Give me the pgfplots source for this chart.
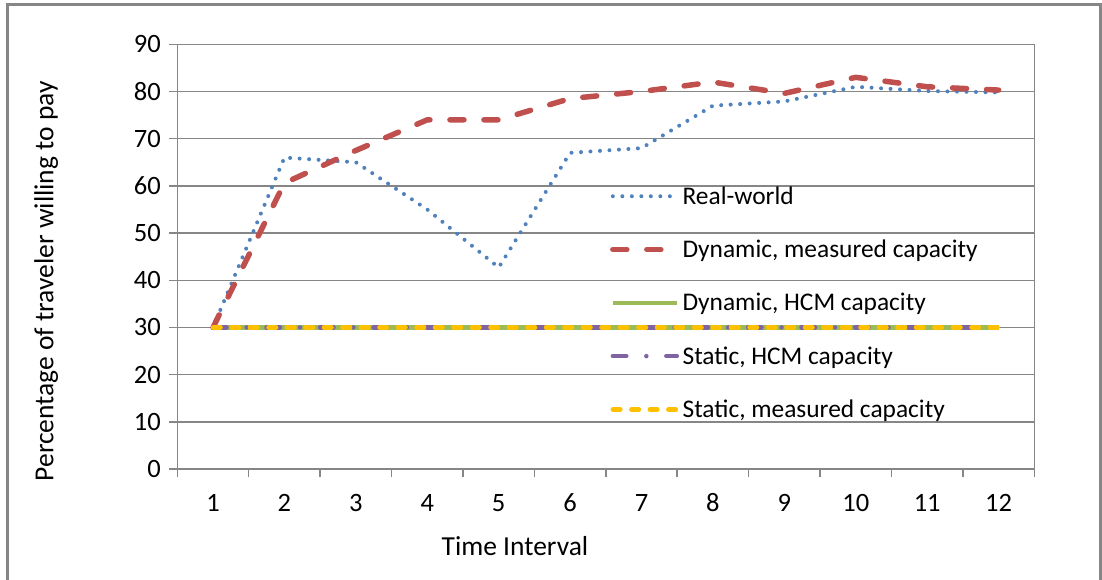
\documentclass[border=0pt]{standalone}
\usepackage{fontspec}
\setmainfont{Carlito}
\usepackage{pgfplots}
\usepackage{pgfplotstable}
\pgfplotsset{compat=1.18}
\definecolor{cblue}{HTML}{4F81BD}
\definecolor{cred}{HTML}{C0504D}
\definecolor{cgreen}{HTML}{9BBB59}
\definecolor{cpurple}{HTML}{8064A2}
\definecolor{cyellow}{HTML}{FFC000}
\definecolor{cgray}{HTML}{868686}
\pgfplotstableread{
x real dynmeas dynhcm stathcm statmeas
1 30 30 30 30 30
2 66 60.6 30 30 30
3 65 67.5 30 30 30
4 55 74 30 30 30
5 42.7 74 30 30 30
6 67 78.5 30 30 30
7 68 80 30 30 30
8 77 82 30 30 30
9 77.9 79.6 30 30 30
10 81 83 30 30 30
11 80.1 81 30 30 30
12 79.8 80.3 30 30 30
}\datatable
\begin{document}
\begin{tikzpicture}[font=\fontsize{26}{30}\selectfont]
\useasboundingbox (-177.3pt,-110pt) rectangle (924.7pt,469pt);
\draw[color=cgray, line width=3pt] (-169.3pt,-140pt) rectangle (922.7pt,464pt);
\begin{axis}[
  at={(0pt,0pt)}, anchor=south west,
  scale only axis, width=857pt, height=424.7pt,
  xmin=0.5, xmax=12.5, ymin=0, ymax=90,
  font=\fontsize{26.5}{30}\selectfont,
  /pgf/number format/assume math mode=true,
  axis line style={cgray, line width=1.5pt},
  ymajorgrids, grid style={cgray, line width=1.5pt},
  ytick={0,10,...,90},
  xtick={0.5,1.5,...,12.5}, xticklabels={},
  extra x ticks={1,2,...,12},
  extra x tick labels={1,2,3,4,5,6,7,8,9,10,11,12},
  extra x tick style={major tick length=0pt, tick style={draw=none}},
  xtick pos=bottom, ytick pos=left,
  tick align=outside, major tick length=8pt,
  tick style={cgray, line width=1.5pt},
  xticklabel style={anchor=base, yshift=-42pt},
  yticklabel style={anchor=east, xshift=-5pt},
  xlabel={Time Interval},
  xlabel style={font=\fontsize{27.5}{32}\selectfont, at={(axis description cs:0.394,0)}, anchor=base, yshift=-86pt},
  ylabel={Percentage of traveler willing to pay},
  ylabel style={font=\fontsize{27.5}{32}\selectfont, at={(axis description cs:-0.153,0.442)}, anchor=center, rotate=0},
  legend style={draw=none, fill=none, at={(0.505,0.705)}, anchor=north west,
    inner sep=0pt, outer sep=0pt, row sep=0pt, column sep=0pt,
    font=\fontsize{25.4}{30}\selectfont,
    nodes={inner sep=0pt, minimum height=53.3pt, anchor=west}},
  legend cell align=left,
  legend image code/.code={\draw[#1] (0pt,0pt) -- (64pt,0pt);},
]
\addplot[cblue, line width=4pt, line cap=round, dash pattern=on 0pt off 9.5pt] table[x=x,y=real]{\datatable};
\addlegendentry{\hspace{3pt}Real-world}
\addplot[cred, line width=5.5pt, line cap=round, dash pattern=on 14pt off 20pt] table[x=x,y=dynmeas]{\datatable};
\addlegendentry{\hspace{3pt}Dynamic, measured capacity}
\addplot[cgreen, line width=4.5pt] table[x=x,y=dynhcm]{\datatable};
\addlegendentry{\hspace{3pt}Dynamic, HCM capacity}
\addplot[cpurple, line width=4.5pt, line cap=round, dash pattern=on 13.5pt off 20pt on 0pt off 20pt] table[x=x,y=stathcm]{\datatable};
\addlegendentry{\hspace{3pt}Static, HCM capacity}
\addplot[cyellow, line width=4.5pt, line cap=round, dash pattern=on 7.5pt off 11pt] table[x=x,y=statmeas]{\datatable};
\addlegendentry{\hspace{3pt}Static, measured capacity}
\end{axis}
\end{tikzpicture}
\end{document}
